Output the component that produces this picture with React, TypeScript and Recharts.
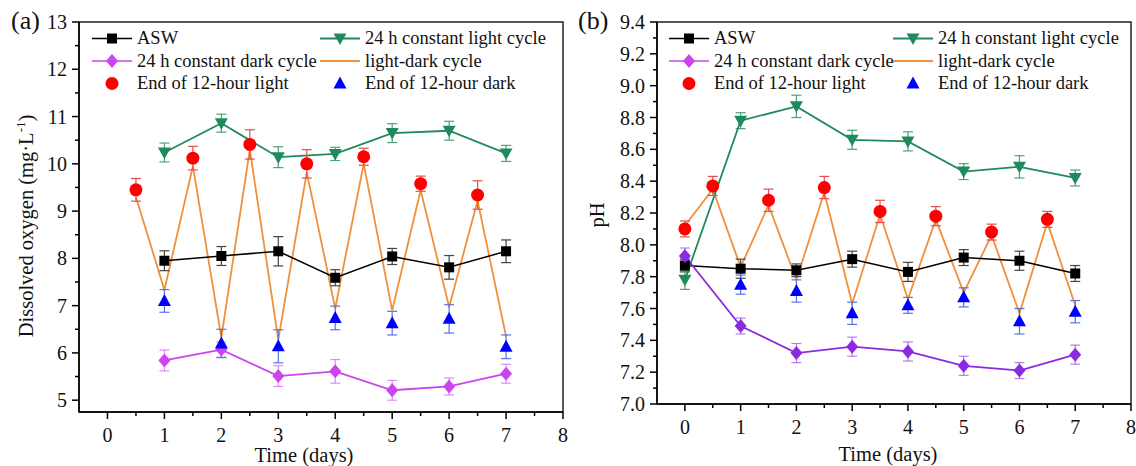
import React from "react";
import {
  ComposedChart,
  ErrorBar,
  Line,
  ReferenceArea,
  Scatter,
  XAxis,
  YAxis,
} from "recharts";

const FONT = '"Liberation Serif", "Times New Roman", serif';

// cores das séries
const C_ASW = "#000000";
const C_LIGHT = "#1f8a5c";
const C_DARK_A = "#cc44ee";
const C_DARK_B = "#8a2be2";
const C_LD = "#f0903a";
const C_END_LIGHT = "#ff0000";
const C_END_DARK = "#0000ff";

// eixos
const X_TICKS = [0, 0.5, 1, 1.5, 2, 2.5, 3, 3.5, 4, 4.5, 5, 5.5, 6, 6.5, 7, 7.5, 8];
const DO_TICKS = [5, 5.5, 6, 6.5, 7, 7.5, 8, 8.5, 9, 9.5, 10, 10.5, 11, 11.5, 12, 12.5, 13];
const PH_TICKS = [7.0, 7.1, 7.2, 7.3, 7.4, 7.5, 7.6, 7.7, 7.8, 7.9, 8.0, 8.1, 8.2, 8.3, 8.4, 8.5, 8.6, 8.7, 8.8, 8.9, 9.0, 9.1, 9.2, 9.3, 9.4];

// (a) oxigênio dissolvido
const DAYS_A = [1, 2, 3, 4, 5, 6, 7];
const ASW_A = [7.95, 8.05, 8.15, 7.59, 8.04, 7.81, 8.15];
const ASW_A_ERR = [0.21, 0.2, 0.31, 0.17, 0.17, 0.25, 0.24];
const LIGHT_A = [10.24, 10.86, 10.14, 10.21, 10.65, 10.7, 10.22];
const LIGHT_A_ERR = [0.2, 0.19, 0.22, 0.14, 0.2, 0.2, 0.17];
const DARK_A = [5.84, 6.07, 5.51, 5.61, 5.21, 5.29, 5.56];
const DARK_A_ERR = [0.22, 0.16, 0.22, 0.25, 0.21, 0.18, 0.2];
const HALF_DAYS_A = [0.5, 1.5, 2.5, 3.5, 4.5, 5.5, 6.5];
const END_LIGHT_A = [9.45, 10.12, 10.41, 10.0, 10.15, 9.58, 9.34];
const END_LIGHT_A_ERR = [0.24, 0.25, 0.31, 0.3, 0.18, 0.16, 0.3];
const END_DARK_A = [7.1, 6.2, 6.14, 6.74, 6.63, 6.72, 6.13];
const END_DARK_A_ERR = [0.24, 0.3, 0.35, 0.25, 0.25, 0.3, 0.25];
const LD_X_A = [0.5, 1, 1.5, 2, 2.5, 3, 3.5, 4, 4.5, 5, 5.5, 6, 6.5, 7];
const LD_A = [9.3, 7.33, 9.95, 6.33, 10.3, 6.28, 9.82, 6.94, 10.0, 6.9, 9.44, 6.97, 9.22, 6.35];

// (b) pH
const DAYS_B = [0, 1, 2, 3, 4, 5, 6, 7];
const ASW_B = [7.87, 7.85, 7.84, 7.91, 7.83, 7.92, 7.9, 7.82];
const ASW_B_ERR = [0.04, 0.06, 0.04, 0.05, 0.06, 0.05, 0.06, 0.05];
const LIGHT_B = [7.78, 8.78, 8.87, 8.66, 8.65, 8.46, 8.49, 8.42];
const LIGHT_B_ERR = [0.06, 0.05, 0.07, 0.06, 0.06, 0.05, 0.07, 0.05];
const DARK_B = [7.93, 7.49, 7.32, 7.36, 7.33, 7.24, 7.21, 7.31];
const DARK_B_ERR = [0.05, 0.05, 0.06, 0.06, 0.06, 0.06, 0.05, 0.06];
const HALF_DAYS_B = [0, 0.5, 1.5, 2.5, 3.5, 4.5, 5.5, 6.5];
const END_LIGHT_B = [8.1, 8.37, 8.28, 8.36, 8.21, 8.18, 8.08, 8.16];
const END_LIGHT_B_ERR = [0.05, 0.06, 0.07, 0.07, 0.07, 0.06, 0.05, 0.05];
const DAYS_DARK_B = [1, 2, 3, 4, 5, 6, 7];
const END_DARK_B = [7.75, 7.71, 7.57, 7.62, 7.67, 7.52, 7.58];
const END_DARK_B_ERR = [0.06, 0.07, 0.07, 0.05, 0.06, 0.08, 0.07];
const LD_X_B = [0, 0.5, 1, 1.5, 2, 2.5, 3, 3.5, 4, 4.5, 5, 5.5, 6, 6.5, 7];
const LD_B = [8.12, 8.35, 7.86, 8.25, 7.78, 8.33, 7.63, 8.19, 7.66, 8.16, 7.7, 8.06, 7.57, 8.14, 7.62];

const rows = (xs: number[], ys: number[], es?: number[]) =>
  xs.map((x, i) => ({ x, y: ys[i], e: es ? es[i] : 0 }));

// marcadores
const Square = ({ cx, cy, fill }: any) => (
  <rect x={cx - 5} y={cy - 5} width={10} height={10} fill={fill} />
);
const TriDown = ({ cx, cy, fill }: any) => (
  <polygon points={`${cx - 6.5},${cy - 5} ${cx + 6.5},${cy - 5} ${cx},${cy + 6.5}`} fill={fill} />
);
const TriUp = ({ cx, cy, fill }: any) => (
  <polygon points={`${cx},${cy - 7} ${cx + 6.5},${cy + 5} ${cx - 6.5},${cy + 5}`} fill={fill} />
);
const Diamond = ({ cx, cy, fill }: any) => (
  <polygon points={`${cx},${cy - 7} ${cx + 6},${cy} ${cx},${cy + 7} ${cx - 6},${cy}`} fill={fill} />
);
const Dot = ({ cx, cy, fill }: any) => <circle cx={cx} cy={cy} r={6.5} fill={fill} />;

const dotOf = (Shape: any, fill: string) => (p: any) =>
  p.cx == null ? <g key={p.index} /> : <Shape key={p.index} cx={p.cx} cy={p.cy} fill={fill} />;

function XTick({ x, y, payload }: any) {
  const v = payload.value;
  const major = Number.isInteger(v);
  return (
    <g>
      <line x1={x} x2={x} y1={y} y2={y + (major ? 7 : 4)} stroke="#000" strokeWidth={1.5} />
      {major && (
        <text x={x} y={y + 30} textAnchor="middle" fontSize={20} fontFamily={FONT} fill="#111">
          {v}
        </text>
      )}
    </g>
  );
}

function YTick({ x, y, payload, isMajor, fmt }: any) {
  const v = payload.value;
  const major = isMajor(v);
  return (
    <g>
      <line x1={x} x2={x - (major ? 7 : 4)} y1={y} y2={y} stroke="#000" strokeWidth={1.5} />
      {major && (
        <text x={x - 12} y={y + 7} textAnchor="end" fontSize={20} fontFamily={FONT} fill="#111">
          {fmt(v)}
        </text>
      )}
    </g>
  );
}

const AXIS_LINE = { stroke: "#000", strokeWidth: 1.5 };

function Panel({
  width,
  height,
  margin,
  yDomain,
  yTicks,
  isMajor,
  fmt,
  dark,
  data,
}: any) {
  return (
    <ComposedChart width={width} height={height} margin={margin}>
      <XAxis
        type="number"
        dataKey="x"
        domain={[-0.5, 8]}
        ticks={X_TICKS}
        interval={0}
        tick={<XTick />}
        tickLine={false}
        tickSize={0}
        tickMargin={0}
        height={30}
        axisLine={AXIS_LINE}
        allowDataOverflow
      />
      <YAxis
        type="number"
        domain={yDomain}
        ticks={yTicks}
        interval={0}
        tick={<YTick isMajor={isMajor} fmt={fmt} />}
        tickLine={false}
        tickSize={0}
        tickMargin={0}
        width={60}
        axisLine={AXIS_LINE}
        allowDataOverflow
      />
      <ReferenceArea
        x1={-0.5}
        x2={8}
        y1={yDomain[0]}
        y2={yDomain[1]}
        fill="none"
        stroke="#222"
        strokeWidth={1.5}
        ifOverflow="visible"
      />
      <Line
        data={data.ld}
        dataKey="y"
        stroke={C_LD}
        strokeWidth={1.8}
        dot={false}
        isAnimationActive={false}
      />
      <Line data={data.asw} dataKey="y" stroke={C_ASW} strokeWidth={1.5} dot={dotOf(Square, C_ASW)} isAnimationActive={false}>
        <ErrorBar dataKey="e" width={5} stroke="#444" strokeWidth={1.2} direction="y" />
      </Line>
      <Line data={data.light} dataKey="y" stroke={C_LIGHT} strokeWidth={1.8} dot={dotOf(TriDown, C_LIGHT)} isAnimationActive={false}>
        <ErrorBar dataKey="e" width={5} stroke="#4fa07c" strokeWidth={1.2} direction="y" />
      </Line>
      <Line data={data.dark} dataKey="y" stroke={dark} strokeWidth={1.8} dot={dotOf(Diamond, dark)} isAnimationActive={false}>
        <ErrorBar dataKey="e" width={5} stroke={dark} strokeOpacity={0.6} strokeWidth={1.2} direction="y" />
      </Line>
      <Scatter data={data.endLight} dataKey="y" shape={dotOf(Dot, C_END_LIGHT)} isAnimationActive={false}>
        <ErrorBar dataKey="e" width={5} stroke="#e05050" strokeWidth={1.2} direction="y" />
      </Scatter>
      <Scatter data={data.endDark} dataKey="y" shape={dotOf(TriUp, C_END_DARK)} isAnimationActive={false}>
        <ErrorBar dataKey="e" width={5} stroke="#5a72e0" strokeWidth={1.2} direction="y" />
      </Scatter>
    </ComposedChart>
  );
}

function LegendBlock({ x1, x2, dark }: { x1: number; x2: number; dark: string }) {
  const rowsY = [38.5, 61, 83.5];
  const fs = 18.5;
  const entry = (x: number, y: number, label: string, kind: string) => {
    const mx = x + 20;
    return (
      <g key={label}>
        {kind === "asw" && (
          <>
            <line x1={x} x2={x + 40} y1={y} y2={y} stroke={C_ASW} strokeWidth={1.5} />
            <Square cx={mx} cy={y} fill={C_ASW} />
          </>
        )}
        {kind === "light" && (
          <>
            <line x1={x} x2={x + 40} y1={y} y2={y} stroke={C_LIGHT} strokeWidth={1.8} />
            <TriDown cx={mx} cy={y} fill={C_LIGHT} />
          </>
        )}
        {kind === "dark" && (
          <>
            <line x1={x} x2={x + 40} y1={y} y2={y} stroke="#cc44ee" strokeWidth={1.5} />
            <Diamond cx={mx} cy={y} fill="#cc44ee" />
          </>
        )}
        {kind === "ld" && <line x1={x} x2={x + 40} y1={y} y2={y} stroke={C_LD} strokeWidth={1.8} />}
        {kind === "el" && <Dot cx={mx} cy={y} fill={C_END_LIGHT} />}
        {kind === "ed" && <TriUp cx={mx} cy={y} fill={C_END_DARK} />}
        <text x={x + 45} y={y + 5.5} fontSize={fs} fontFamily={FONT} fill="#111">
          {label}
        </text>
      </g>
    );
  };
  return (
    <g>
      {entry(x1, rowsY[0], "ASW", "asw")}
      {entry(x1, rowsY[1], "24 h constant dark cycle", "dark")}
      {entry(x1, rowsY[2], "End of 12-hour light", "el")}
      {entry(x2, rowsY[0], "24 h constant light cycle", "light")}
      {entry(x2, rowsY[1], "light-dark cycle", "ld")}
      {entry(x2, rowsY[2], "End of 12-hour dark", "ed")}
    </g>
  );
}

export default function App() {
  const dataA = {
    asw: rows(DAYS_A, ASW_A, ASW_A_ERR),
    light: rows(DAYS_A, LIGHT_A, LIGHT_A_ERR),
    dark: rows(DAYS_A, DARK_A, DARK_A_ERR),
    endLight: rows(HALF_DAYS_A, END_LIGHT_A, END_LIGHT_A_ERR),
    endDark: rows(DAYS_A, END_DARK_A, END_DARK_A_ERR),
    ld: rows(LD_X_A, LD_A),
  };
  const dataB = {
    asw: rows(DAYS_B, ASW_B, ASW_B_ERR),
    light: rows(DAYS_B, LIGHT_B, LIGHT_B_ERR),
    dark: rows(DAYS_B, DARK_B, DARK_B_ERR),
    endLight: rows(HALF_DAYS_B, END_LIGHT_B, END_LIGHT_B_ERR),
    endDark: rows(DAYS_DARK_B, END_DARK_B, END_DARK_B_ERR),
    ld: rows(LD_X_B, LD_B),
  };

  return (
    <div
      style={{
        position: "absolute",
        left: 0,
        top: 0,
        width: 1136,
        height: 466,
        background: "#fff",
        fontFamily: FONT,
      }}
    >
      <div style={{ position: "absolute", left: 0, top: 0 }}>
        <Panel
          width={570}
          height={466}
          margin={{ top: 22, right: 7, bottom: 24, left: 19 }}
          yDomain={[4.75, 13]}
          yTicks={DO_TICKS}
          isMajor={(v: number) => Number.isInteger(v)}
          fmt={(v: number) => String(v)}
          dark={C_DARK_A}
          data={dataA}
        />
      </div>
      <div style={{ position: "absolute", left: 570, top: 0 }}>
        <Panel
          width={566}
          height={466}
          margin={{ top: 22, right: 5, bottom: 32, left: 27 }}
          yDomain={[7, 9.4]}
          yTicks={PH_TICKS}
          isMajor={(v: number) => Math.round(v * 10) % 2 === 0}
          fmt={(v: number) => v.toFixed(1)}
          dark={C_DARK_B}
          data={dataB}
        />
      </div>
      <svg
        width={1136}
        height={466}
        style={{ position: "absolute", left: 0, top: 0, pointerEvents: "none" }}
      >
        <text x={11} y={29} fontSize={26} fontFamily={FONT} fill="#111">(a)</text>
        <text x={578} y={29} fontSize={26} fontFamily={FONT} fill="#111">(b)</text>
        <LegendBlock x1={92} x2={320} dark={C_DARK_A} />
        <LegendBlock x1={669} x2={893} dark={C_DARK_B} />
        <text x={304} y={462} textAnchor="middle" fontSize={20.5} fontFamily={FONT} fill="#111">
          Time (days)
        </text>
        <text x={888} y={461} textAnchor="middle" fontSize={20.5} fontFamily={FONT} fill="#111">
          Time (days)
        </text>
        <text transform="translate(33,226) rotate(-90)" textAnchor="middle" fontSize={20.5} fontFamily={FONT} fill="#111">
          Dissolved oxygen (mg·L
          <tspan fontSize={13} dy={-8}>-1</tspan>
          <tspan dy={8}>)</tspan>
        </text>
        <text transform="translate(604,215) rotate(-90)" textAnchor="middle" fontSize={20.5} fontFamily={FONT} fill="#111">
          pH
        </text>
      </svg>
    </div>
  );
}
